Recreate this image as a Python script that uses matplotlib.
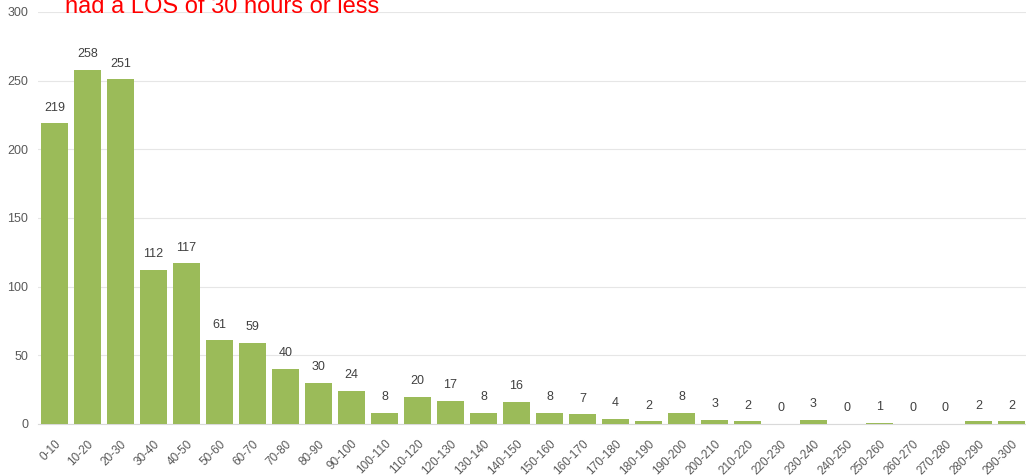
import matplotlib.pyplot as plt

categories = ["0-10", "10-20", "20-30", "30-40", "40-50", "50-60", "60-70", "70-80",
              "80-90", "90-100", "100-110", "110-120", "120-130", "130-140", "140-150",
              "150-160", "160-170", "170-180", "180-190", "190-200", "200-210", "210-220",
              "220-230", "230-240", "240-250", "250-260", "260-270", "270-280", "280-290",
              "290-300"]
counts = [219, 258, 251, 112, 117, 61, 59, 40, 30, 24, 8, 20, 17, 8, 16,
          8, 7, 4, 2, 8, 3, 2, 0, 3, 0, 1, 0, 0, 2, 2]
y_ticks = [0, 50, 100, 150, 200, 250, 300]
title_text = "had a LOS of 30 hours or less"

plt.rcParams["font.family"] = ["Liberation Sans", "DejaVu Sans"]

fig = plt.figure(figsize=(10.26, 4.76), dpi=100)
ax = fig.add_axes([38 / 1026, 52 / 476, 990 / 1026, 412 / 476])

x = range(len(categories))
bars = ax.bar(x, counts, width=0.84, color="#9bbb59", zorder=3)
for i, v in enumerate(counts):
    ax.annotate(str(v), (i, v), xytext=(0, 7), textcoords="offset points",
                ha="center", va="bottom", fontsize=9, color="#404040")

ax.set_xlim(-0.5, len(categories) - 0.5)
ax.set_ylim(0, 300)
ax.set_yticks(y_ticks)
ax.set_xticks(list(x))
ax.set_xticklabels(categories, rotation=45, ha="right", rotation_mode="anchor",
                   fontsize=8.5, color="#595959")
ax.tick_params(axis="y", labelsize=9, labelcolor="#595959", length=0, pad=7)
ax.tick_params(axis="x", length=0, pad=10)
ax.grid(axis="y", color="#e6e6e6", linewidth=0.8, zorder=0)
for side in ["top", "right", "left"]:
    ax.spines[side].set_visible(False)
ax.spines["bottom"].set_color("#d9d9d9")

# the title is partly outside the picture, as in the source screenshot
fig.text(65 / 1026, 1 - 13 / 476, title_text, color="red", fontsize=17,
         ha="left", va="baseline")

fig.savefig("out.png", dpi=100)
